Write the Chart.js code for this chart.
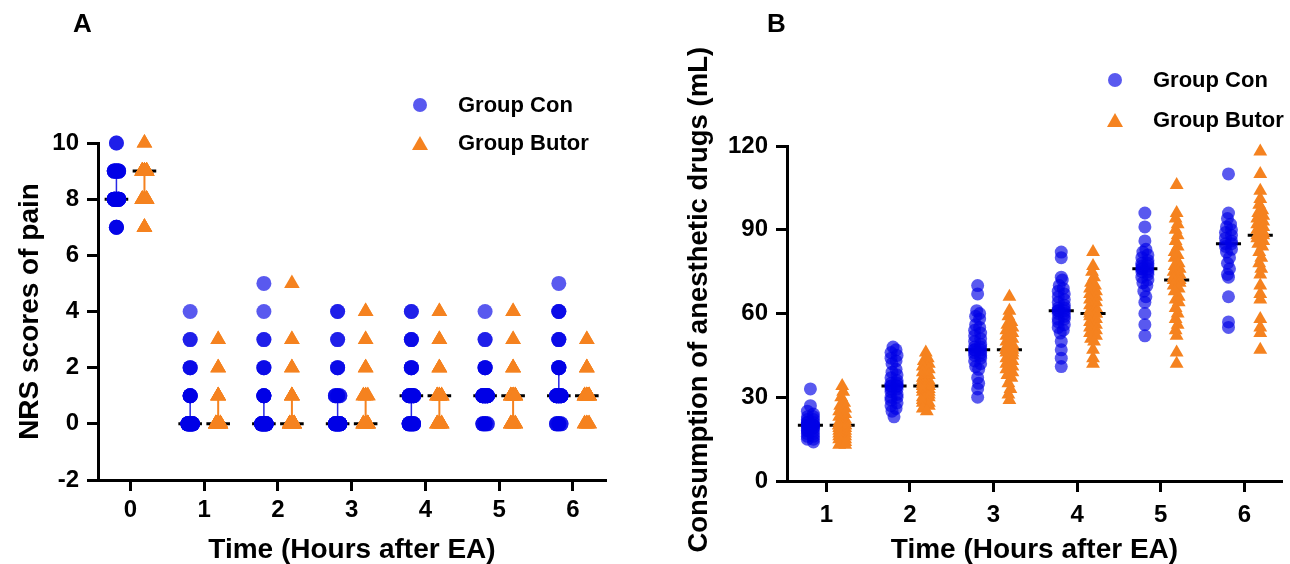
<!DOCTYPE html>
<html>
<head>
<meta charset="utf-8">
<script src="https://cdn.jsdelivr.net/npm/chart.js@4.4.1/dist/chart.umd.min.js"></script>
<style>
  body { margin: 0; background: #fff; width: 1290px; height: 564px; position: relative; overflow: hidden;
         font-family: "Liberation Sans", Arial, sans-serif; font-weight: bold; color: #000; }
  .box { position: absolute; top: 0; height: 564px; }
  .txt { position: absolute; font-size: 22px; line-height: 22px; transform: translateY(-50%); white-space: nowrap; }
  .panel { font-size: 26px; line-height: 26px; }
  .dot { position: absolute; width: 14px; height: 14px; margin: -7px 0 0 -7px; border-radius: 50%; background: rgba(0, 0, 230, 0.65); }
  .tri { position: absolute; width: 0; height: 0; margin: -8px 0 0 -8px; border-left: 8px solid transparent;
         border-right: 8px solid transparent; border-bottom: 14px solid rgb(245, 130, 31); }
</style>
</head>
<body>
<div class="box" style="left:0;width:650px"><canvas id="nrs"></canvas></div>
<div class="box" style="left:650px;width:640px"><canvas id="drug"></canvas></div>

<div class="txt panel" style="left:73px;top:23px">A</div>
<div class="txt panel" style="left:767px;top:23px">B</div>

<div class="dot" style="left:420px;top:105px"></div>
<div class="txt" style="left:458px;top:105px">Group Con</div>
<div class="tri" style="left:420px;top:144px"></div>
<div class="txt" style="left:458px;top:143px">Group Butor</div>

<div class="dot" style="left:1115px;top:80px"></div>
<div class="txt" style="left:1153px;top:80px">Group Con</div>
<div class="tri" style="left:1115px;top:121px"></div>
<div class="txt" style="left:1153px;top:120px">Group Butor</div>

<script>
const FONT = '"Liberation Sans", Arial, sans-serif';
const CON = 'rgba(0, 0, 230, 0.65)';
const BUTOR = 'rgb(245, 130, 31)';

// A: NRS scores, score levels and number of patients at each level
const nrsHours = [0, 1, 2, 3, 4, 5, 6];
const nrsConLevels = [[10, 9, 8, 7], [4, 3, 2, 1, 0], [5, 4, 3, 2, 1, 0], [4, 3, 2, 1, 0], [4, 3, 2, 1, 0], [4, 3, 2, 1, 0], [5, 4, 3, 2, 1, 0]];
const nrsConCounts = [[2, 12, 22, 4], [1, 2, 3, 6, 28], [1, 1, 2, 3, 6, 27], [2, 2, 3, 8, 25], [2, 3, 4, 16, 15], [1, 2, 4, 25, 8], [1, 3, 3, 5, 20, 8]];
const nrsButLevels = [[10, 9, 8, 7], [3, 2, 1, 0], [5, 3, 2, 1, 0], [4, 3, 2, 1, 0], [4, 3, 2, 1, 0], [4, 3, 2, 1, 0], [3, 2, 1, 0]];
const nrsButCounts = [[2, 22, 12, 4], [2, 3, 6, 29], [1, 2, 3, 7, 27], [2, 2, 3, 8, 25], [2, 3, 4, 16, 15], [2, 2, 4, 18, 14], [2, 4, 24, 10]];
const nrsConMed = [8, 0, 0, 0, 1, 1, 1];
const nrsConQ1 = [8, 0, 0, 0, 0, 1, 1];
const nrsConQ3 = [9, 1, 1, 1, 1, 1, 2];
const nrsButMed = [9, 0, 0, 0, 1, 1, 1];
const nrsButQ1 = [8, 0, 0, 0, 0, 0, 1];
const nrsButQ3 = [9, 1, 1, 1, 1, 1, 1];

// B: consumption of anesthetic drugs (mL)
const drugHours = [1, 2, 3, 4, 5, 6];
const drugCon = [
  [33, 27, 25, 24, 23, 23, 22, 22, 21, 21, 21, 20, 20, 20, 20, 20, 20, 19, 19, 19, 18, 18, 18, 17, 17, 16, 16, 15, 15, 14],
  [48, 47, 46, 45, 44, 43, 42, 40, 39, 38, 37, 36, 35, 35, 34, 34, 34, 34, 33, 33, 32, 31, 30, 30, 29, 28, 27, 26, 25, 23],
  [70, 67, 61, 60, 59, 58, 56, 55, 54, 53, 52, 51, 50, 49, 48, 48, 47, 47, 47, 46, 46, 45, 45, 44, 43, 42, 41, 40, 37, 35, 33, 30],
  [82, 80, 73, 72, 70, 69, 68, 67, 66, 65, 64, 63, 62, 62, 61, 61, 61, 60, 60, 59, 58, 58, 57, 56, 55, 54, 53, 50, 47, 44, 41],
  [96, 91, 86, 83, 82, 81, 80, 79, 78, 78, 77, 77, 76, 76, 76, 75, 75, 74, 73, 72, 71, 70, 68, 66, 64, 60, 56, 52],
  [110, 96, 94, 92, 91, 90, 89, 88, 87, 86, 85, 85, 84, 83, 82, 80, 78, 76, 74, 73, 66, 57, 55]
];
const drugBut = [
  [34, 32, 30, 28, 27, 26, 25, 24, 23, 22, 21, 21, 20, 20, 20, 20, 20, 19, 19, 18, 18, 17, 17, 16, 16, 15, 15, 14, 13, 13],
  [46, 44, 43, 42, 41, 40, 39, 38, 37, 36, 36, 35, 35, 34, 34, 34, 34, 33, 33, 32, 32, 31, 30, 30, 29, 28, 28, 27, 26, 25],
  [66, 61, 59, 57, 56, 55, 54, 53, 52, 51, 50, 49, 48, 48, 47, 47, 47, 46, 46, 45, 44, 43, 42, 41, 40, 39, 38, 37, 35, 33, 31, 29],
  [82, 77, 75, 73, 71, 70, 69, 68, 67, 66, 65, 64, 63, 62, 61, 60, 60, 60, 59, 58, 57, 56, 55, 54, 53, 52, 51, 50, 47, 44, 42],
  [106, 96, 94, 92, 90, 88, 86, 84, 82, 81, 80, 78, 77, 76, 75, 74, 73, 72, 72, 71, 70, 69, 68, 66, 65, 64, 62, 60, 58, 56, 54, 52, 46, 42],
  [118, 110, 104, 101, 99, 97, 96, 95, 94, 93, 92, 91, 90, 89, 88, 88, 87, 86, 85, 84, 82, 80, 78, 76, 74, 70, 67, 65, 58, 55, 53, 47]
];
const drugConMed = [20, 34, 47, 61, 76, 85];
const drugButMed = [20, 34, 47, 60, 72, 88];

// expand level/count lists into points; big piles get spread a little sideways
function nrsPoints(levels, counts, shift) {
  const pts = [];
  levels.forEach((lv, h) => {
    lv.forEach((v, j) => {
      const n = counts[h][j];
      for (let k = 0; k < n; k++) {
        const spread = n >= 8 ? [0, -1, 1][k % 3] * 0.03 : 0;
        pts.push({ x: nrsHours[h] + shift + spread, y: v });
      }
    });
  });
  return pts;
}

function drugPoints(cols, shift) {
  const pts = [];
  cols.forEach((vals, h) => {
    vals.forEach((v, i) => {
      const dens = vals.filter(u => Math.abs(u - v) <= 2).length;
      const off = dens > 2 ? (i % 2 ? 1 : -1) * Math.min(dens - 2, 3) * 0.012 : 0;
      pts.push({ x: drugHours[h] + shift + off, y: v });
    });
  });
  return pts;
}

function medianSegs(hours, meds, shift, half) {
  const pts = [];
  hours.forEach((h, i) => {
    pts.push({ x: h + shift - half, y: meds[i] }, { x: h + shift + half, y: meds[i] }, { x: h + shift, y: null });
  });
  return pts;
}

function rangeSegs(hours, lo, hi, shift) {
  const pts = [];
  hours.forEach((h, i) => {
    pts.push({ x: h + shift, y: lo[i] }, { x: h + shift, y: hi[i] }, { x: h + shift, y: null });
  });
  return pts;
}

function lineSet(data, color, width) {
  return { type: 'line', data, borderColor: color, borderWidth: width, pointRadius: 0, showLine: true, spanGaps: false, fill: false, clip: false };
}

function xAxis(min, max, ticks, height, pad) {
  return {
    type: 'linear', min, max,
    afterBuildTicks: s => { s.ticks = ticks.map(v => ({ value: v })); },
    afterFit: s => { s.height = height; },
    grid: { drawOnChartArea: false, drawTicks: true, tickLength: 11, tickWidth: 3, tickColor: '#000' },
    border: { display: true, color: '#000', width: 3 },
    ticks: { color: '#000', padding: pad, font: { family: FONT, size: 24, weight: 'bold' } },
    title: { display: true, text: 'Time (Hours after EA)', color: '#000', padding: { top: 0, bottom: 0 },
             font: { family: FONT, size: 28, weight: 'bold', lineHeight: 1 } }
  };
}

function yAxis(min, max, step, width, title, titlePad, titleSize) {
  return {
    min, max,
    afterFit: s => { s.width = width; },
    grid: { drawOnChartArea: false, drawTicks: true, tickLength: 11, tickWidth: 3, tickColor: '#000' },
    border: { display: true, color: '#000', width: 3 },
    ticks: { stepSize: step, color: '#000', padding: 8, font: { family: FONT, size: 24, weight: 'bold' } },
    title: { display: true, text: title, color: '#000', padding: { top: titlePad, bottom: 0 },
             font: { family: FONT, size: titleSize, weight: 'bold', lineHeight: 1 } }
  };
}

const common = {
  responsive: true,
  maintainAspectRatio: false,
  animation: false,
  plugins: { legend: { display: false }, tooltip: { enabled: false } }
};

new Chart(document.getElementById('nrs'), {
  type: 'scatter',
  data: {
    datasets: [
      { label: 'Group Con', data: nrsPoints(nrsConLevels, nrsConCounts, -0.19), pointStyle: 'circle', pointRadius: 7.5, backgroundColor: CON, borderWidth: 0, clip: false },
      { label: 'Group Butor', data: nrsPoints(nrsButLevels, nrsButCounts, 0.19), pointStyle: 'triangle', pointRadius: 9, backgroundColor: BUTOR, borderWidth: 0, clip: false },
      lineSet(medianSegs(nrsHours, nrsConMed, -0.19, 0.16), '#000', 3),
      lineSet(medianSegs(nrsHours, nrsButMed, 0.19, 0.16), '#000', 3),
      lineSet(rangeSegs(nrsHours, nrsConQ1, nrsConQ3, -0.19), 'rgb(40, 40, 230)', 1.5),
      lineSet(rangeSegs(nrsHours, nrsButQ1, nrsButQ3, 0.19), BUTOR, 2)
    ]
  },
  options: {
    ...common,
    layout: { padding: { top: 143, right: 44, bottom: 0, left: 0 } },
    scales: {
      x: xAxis(-0.44, 6.45, nrsHours, 84, 5),
      y: yAxis(-2, 10, 2, 98, 'NRS scores of pain', 16, 28)
    }
  }
});

new Chart(document.getElementById('drug'), {
  type: 'scatter',
  data: {
    datasets: [
      { label: 'Group Con', data: drugPoints(drugCon, -0.19), pointStyle: 'circle', pointRadius: 6.5, backgroundColor: CON, borderWidth: 0, clip: false },
      { label: 'Group Butor', data: drugPoints(drugBut, 0.19), pointStyle: 'triangle', pointRadius: 8, backgroundColor: BUTOR, borderWidth: 0, clip: false },
      lineSet(medianSegs(drugHours, drugConMed, -0.19, 0.15), '#000', 3),
      lineSet(medianSegs(drugHours, drugButMed, 0.19, 0.15), '#000', 3)
    ]
  },
  options: {
    ...common,
    layout: { padding: { top: 146, right: 0, bottom: 0, left: 0 } },
    scales: {
      x: xAxis(0.53, 6.45, drugHours, 83, 9),
      // leading en spaces nudge the centred title upward, as in the original figure
      y: yAxis(0, 120, 30, 137, '\u2002\u2002Consumption of anesthetic drugs (mL)', 36, 27.5)
    }
  }
});
</script>
</body>
</html>
